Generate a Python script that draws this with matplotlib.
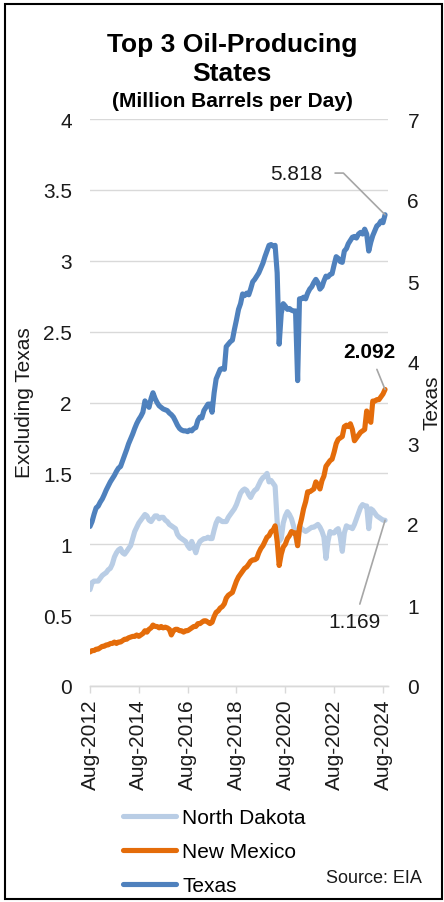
import matplotlib
matplotlib.use("Agg")
import matplotlib.pyplot as plt
import matplotlib.dates as mdates
from matplotlib.lines import Line2D
from matplotlib.patches import Rectangle
from matplotlib.ticker import MultipleLocator, FuncFormatter
import pandas as pd

plt.rcParams['font.family'] = ['Liberation Sans', 'DejaVu Sans']

# monthly production, million barrels per day, Aug-2012 .. Sep-2024
months = pd.date_range('2012-08-01', periods=146, freq='MS')

texas = [
    1.97, 2.03, 2.12, 2.20, 2.22, 2.27, 2.31, 2.36, 2.42, 2.47,
    2.52, 2.56, 2.60, 2.65, 2.69, 2.71, 2.78, 2.85, 2.92, 2.99,
    3.05, 3.11, 3.18, 3.24, 3.29, 3.33, 3.38, 3.52, 3.48, 3.44,
    3.55, 3.62, 3.55, 3.50, 3.46, 3.44, 3.42, 3.41, 3.40, 3.37,
    3.35, 3.32, 3.27, 3.22, 3.18, 3.16, 3.15, 3.15, 3.14, 3.16,
    3.15, 3.18, 3.19, 3.28, 3.32, 3.31, 3.40, 3.44, 3.48, 3.48,
    3.38, 3.62, 3.79, 3.85, 3.91, 3.92, 3.91, 4.19, 4.22, 4.25,
    4.27, 4.40, 4.52, 4.65, 4.72, 4.84, 4.82, 4.85, 4.83, 4.90,
    4.99, 5.02, 5.06, 5.10, 5.16, 5.22, 5.30, 5.37, 5.44, 5.45,
    5.43, 5.44, 5.10, 4.22, 4.60, 4.72, 4.69, 4.65, 4.66, 4.64,
    4.63, 4.63, 3.77, 4.78, 4.78, 4.80, 4.78, 4.85, 4.90, 4.93,
    4.98, 5.02, 4.98, 4.90, 4.93, 5.00, 5.06, 5.05, 5.08, 5.09,
    5.20, 5.30, 5.28, 5.24, 5.23, 5.37, 5.40, 5.46, 5.50, 5.54,
    5.55, 5.53, 5.58, 5.60, 5.58, 5.64, 5.58, 5.37, 5.48, 5.56,
    5.62, 5.68, 5.70, 5.74, 5.72, 5.818,
]

new_mexico = [
    0.24, 0.25, 0.25, 0.26, 0.26, 0.27, 0.28, 0.28, 0.29, 0.29,
    0.30, 0.30, 0.31, 0.30, 0.31, 0.31, 0.32, 0.33, 0.33, 0.34,
    0.345, 0.35, 0.35, 0.36, 0.35, 0.36, 0.37, 0.39, 0.38, 0.40,
    0.41, 0.43, 0.42, 0.42, 0.41, 0.42, 0.41, 0.415, 0.41, 0.40,
    0.36, 0.39, 0.40, 0.40, 0.39, 0.39, 0.38, 0.39, 0.39, 0.40,
    0.41, 0.42, 0.42, 0.44, 0.44, 0.45, 0.46, 0.46, 0.45, 0.44,
    0.45, 0.49, 0.52, 0.53, 0.55, 0.56, 0.58, 0.62, 0.64, 0.65,
    0.66, 0.70, 0.74, 0.77, 0.79, 0.81, 0.83, 0.84, 0.86, 0.88,
    0.89, 0.89, 0.90, 0.94, 0.97, 0.99, 1.02, 1.05, 1.06, 1.09,
    1.10, 1.13, 1.02, 0.85, 0.93, 0.98, 1.00, 1.04, 1.06, 1.09,
    1.08, 1.08, 0.99, 1.12, 1.18, 1.25, 1.30, 1.37, 1.37, 1.38,
    1.39, 1.44, 1.42, 1.39, 1.45, 1.48, 1.55, 1.57, 1.59, 1.60,
    1.65, 1.71, 1.74, 1.75, 1.76, 1.83, 1.84, 1.83, 1.85, 1.81,
    1.73, 1.75, 1.77, 1.79, 1.80, 1.81, 1.94, 1.88, 1.86, 2.01,
    2.01, 2.02, 2.02, 2.04, 2.06, 2.092,
]

north_dakota = [
    0.68, 0.73, 0.74, 0.74, 0.74, 0.76, 0.78, 0.79, 0.80, 0.82,
    0.83, 0.86, 0.91, 0.94, 0.96, 0.97, 0.94, 0.93, 0.95, 0.97,
    0.99, 1.04, 1.09, 1.12, 1.15, 1.17, 1.19, 1.21, 1.20, 1.17,
    1.16, 1.18, 1.20, 1.20, 1.18, 1.19, 1.19, 1.17, 1.16, 1.14,
    1.13, 1.12, 1.11, 1.07, 1.05, 1.04, 1.03, 1.02, 0.99, 0.97,
    1.02, 0.98, 0.94, 0.99, 1.02, 1.03, 1.04, 1.04, 1.05, 1.04,
    1.04, 1.10, 1.15, 1.18, 1.17, 1.16, 1.16, 1.16, 1.19, 1.21,
    1.23, 1.25, 1.28, 1.32, 1.36, 1.38, 1.39, 1.38, 1.35, 1.33,
    1.36, 1.38, 1.39, 1.42, 1.45, 1.47, 1.48, 1.50, 1.44, 1.45,
    1.43, 1.41, 1.16, 1.02, 1.04, 1.15, 1.20, 1.23, 1.21, 1.18,
    1.13, 1.06, 0.99, 1.13, 1.11, 1.10, 1.09, 1.10, 1.11, 1.12,
    1.12, 1.13, 1.14, 1.12, 1.09, 1.05, 0.90, 1.02, 1.09, 1.08,
    1.08, 1.10, 1.11, 1.05, 0.95, 1.08, 1.13, 1.12, 1.12, 1.11,
    1.14, 1.18, 1.22, 1.26, 1.28, 1.27, 1.27, 1.11, 1.25, 1.24,
    1.22, 1.20, 1.19, 1.18, 1.17, 1.169,
]

labels = ['North Dakota', 'New Mexico', 'Texas']
colors = ['#b9cde5', '#e46c0a', '#4f81bd']
grey = '#d9d9d9'
txt = '#1a1a1a'
lw = 3.7

fig = plt.figure(figsize=(4.44, 9.03), dpi=100)
ax = fig.add_axes([90/444, 1-687/903, 298/444, 567/903])
ax2 = ax.twinx()

ax.plot(months, north_dakota, color=colors[0], lw=lw, solid_capstyle='round')
ax.plot(months, new_mexico, color=colors[1], lw=lw, solid_capstyle='round')
ax2.plot(months, texas, color=colors[2], lw=lw, solid_capstyle='round')

ax.set_ylim(0, 4)
ax2.set_ylim(0, 7)
ax.set_xlim(pd.Timestamp('2012-08-01'), pd.Timestamp('2024-10-15'))

ax.yaxis.set_major_locator(MultipleLocator(0.5))
ax2.yaxis.set_major_locator(MultipleLocator(1))
ax.yaxis.set_major_formatter(FuncFormatter(lambda v, p: '{:g}'.format(v)))
ax2.yaxis.set_major_formatter(FuncFormatter(lambda v, p: '{:g}'.format(v)))

ticks = [pd.Timestamp('%d-08-01' % y) for y in range(2012, 2025, 2)]
ax.set_xticks(ticks)
ax.xaxis.set_major_formatter(mdates.DateFormatter('%b-%Y'))

ax.grid(axis='y', color=grey, lw=1)
ax.set_axisbelow(True)
for a in (ax, ax2):
    for s in ['left', 'right', 'top']:
        a.spines[s].set_visible(False)
    a.spines['bottom'].set_color(grey)
    a.spines['bottom'].set_linewidth(1)
ax.tick_params(axis='y', length=0, pad=13, labelsize=15, labelcolor=txt)
ax2.tick_params(axis='y', length=0, pad=14, labelsize=15, labelcolor=txt)
ax.tick_params(axis='x', length=5, width=1, color=grey, pad=4, labelsize=15,
               labelcolor=txt, labelrotation=90)

fig.text(25/444, 1-403/903, 'Excluding Texas', rotation=90, ha='center',
         va='center', fontsize=15, color=txt)
fig.text(432/444, 1-403/903, 'Texas', rotation=90, ha='center',
         va='center', fontsize=15, color=txt)

# title
fig.text(232/444, 1-52/903, 'Top 3 Oil-Producing', ha='center', va='baseline',
         fontsize=19, fontweight='bold', color='black')
fig.text(232/444, 1-81/903, 'States', ha='center', va='baseline',
         fontsize=19, fontweight='bold', color='black')
fig.text(232/444, 1-107/903, '(Million Barrels per Day)', ha='center',
         va='baseline', fontsize=15, fontweight='bold', color='black')

# end-point labels
lead = dict(arrowstyle='-', color='#a6a6a6', lw=1.2, shrinkB=0)
ax2.annotate('5.818', xy=(months[-1], texas[-1]), xytext=(-45, 30),
             textcoords='offset points', ha='right', va='center', fontsize=15,
             color=txt,
             arrowprops=dict(lead, shrinkA=7,
                             connectionstyle='angle,angleA=0,angleB=135,rad=0'))
ax2.annotate('2.092', xy=(months[-1], new_mexico[-1] * 7 / 4), xytext=(-11, 27),
             textcoords='offset points', ha='center', va='center', fontsize=15,
             fontweight='bold', color='black',
             arrowprops=dict(lead, shrinkA=4))
ax2.annotate('1.169', xy=(months[-1], north_dakota[-1] * 7 / 4), xytext=(-22, -73),
             textcoords='offset points', ha='center', va='center', fontsize=15,
             color=txt, arrowprops=dict(lead, shrinkA=4))

handles = [Line2D([], [], color=c, lw=lw, solid_capstyle='round') for c in colors]
fig.legend(handles, labels, loc='upper left', bbox_to_anchor=(123/444, 1-809/903),
           frameon=False, fontsize=15, handlelength=2.55, handletextpad=0.3,
           labelspacing=0.72, borderaxespad=0, borderpad=0)

fig.text(422/444, 1-879/903, 'Source: EIA', ha='right', va='center',
         fontsize=13, color=txt)

fig.patches.append(Rectangle((5/444, 3/903), 437/444, 895/903, transform=fig.transFigure,
                             fill=False, edgecolor='black', lw=1.5))

fig.savefig('out.png', dpi=100)
